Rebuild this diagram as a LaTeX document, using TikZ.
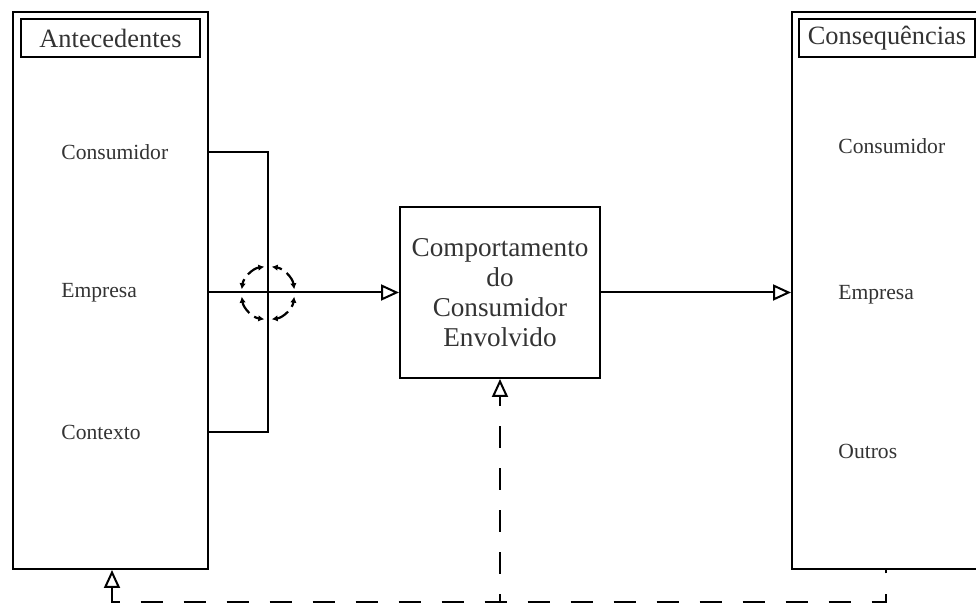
\documentclass[tikz,border=0pt]{standalone}
\usepackage{fontspec}
\setmainfont{Liberation Serif}
\usetikzlibrary{arrows.meta,positioning,calc}
\tikzset{
  panel/.style={draw, line width=1pt, inner sep=0pt},
  titlebox/.style={draw, line width=1pt, inner sep=0pt, text=black!80, font=\fontsize{13.2}{15}\selectfont},
  centrebox/.style={draw, line width=1pt, align=center, text=black!80, font=\fontsize{13.6}{15}\selectfont},
  item/.style={anchor=west, inner sep=0pt, text=black!80, font=\fontsize{10.8}{13}\selectfont},
  wire/.style={line width=1pt},
  flow/.style={line width=1pt, -{Triangle[open, length=9pt, width=8pt, line width=1pt]}},
  feedback/.style={line width=1pt, dash pattern=on 11pt off 10.5pt},
  spin/.style={line width=1.1pt, dash pattern=on 6.6pt off 3pt, {Latex[length=3pt, width=3.2pt]}-{Latex[length=3pt, width=3.2pt]}}
}
\begin{document}
\begin{tikzpicture}[x=0.5pt, y=-0.5pt]
  \useasboundingbox (0,0) rectangle (976,603);
  \node[panel, minimum width=97.5pt, minimum height=278.5pt] (ante) at (110.5,290.5) {};
  \node[titlebox, minimum width=89.5pt, minimum height=19pt] (antetitle) at (110.5,38) {Antecedentes};
  \node[panel, minimum width=104pt, minimum height=278.5pt] (cons) at (896,290.5) {};
  \node[titlebox, minimum width=88pt, minimum height=19pt] (constitle) at (887,38) {Consequências};
  \node[centrebox, minimum width=100pt, minimum height=85.5pt] (comp) at (500,292.5) {Comportamento\\do\\Consumidor\\Envolvido};

  \node[item] (aconsumidor) at (61,152) {Consumidor};
  \node[item] (aempresa) at (61,293) {Empresa};
  \node[item] (acontexto) at (61,432) {Contexto};
  \node[item] (cconsumidor) at (838,146) {Consumidor};
  \node[item] (cempresa) at (838,295) {Empresa};
  \node[item] (coutros) at (838,451) {Outros};

  \coordinate (junc) at (268,293);
  \draw[wire] (ante.east |- aconsumidor) -| (junc |- acontexto) -- (ante.east |- acontexto);
  \draw[flow] (ante.east |- comp.west) -- (comp.west);
  \foreach \a in {0,90,180,270}
    \draw[spin] (junc) ++(\a+8:13.25pt) arc[start angle=\a+8, end angle=\a+82, radius=13.25pt];
  \draw[flow] (comp.east) -- (cons.west |- comp.east);

  \coordinate (loopR) at ($(cons.south west)+(95,32)$);
  \draw[feedback, {Triangle[open, length=9pt, width=8pt, line width=1pt]}-] ($(ante.south west)+(100,0)$) |- (loopR) -- ($(cons.south west)+(95,0)$);
  \draw[feedback, {Triangle[open, length=9pt, width=8pt, line width=1pt]}-, dash pattern=on 11pt off 10pt, dash phase=6pt] (comp.south) -- (comp.south |- loopR);
\end{tikzpicture}
\end{document}
